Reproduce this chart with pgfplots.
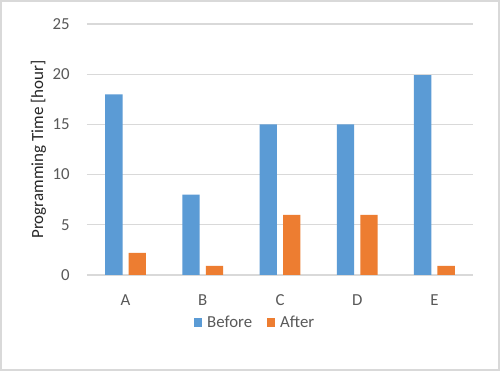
\documentclass[border=0pt]{standalone}
\usepackage{fontspec}
\setmainfont{Carlito}
\usepackage{pgfplots}
\pgfplotsset{compat=1.18}
\definecolor{cblue}{HTML}{5B9BD5}
\definecolor{corange}{HTML}{ED7D31}
\definecolor{cgrid}{HTML}{D9D9D9}
\definecolor{ctext}{HTML}{595959}
\definecolor{clabel}{HTML}{262626}
\begin{document}
\begin{tikzpicture}
\useasboundingbox (0,0) rectangle (375pt,278.25pt);
\fill[white] (0,0) rectangle (375pt,278.25pt);
\draw[cgrid, line width=1.5pt] (0.75pt,0.75pt) rectangle (374.25pt,277.5pt);
\begin{axis}[
  at={(65.25pt,72pt)}, anchor=south west,
  scale only axis, width=289.5pt, height=188.25pt,
  ymin=0, ymax=25, ytick={0,5,10,15,20,25},
  xmin=-0.5, xmax=4.5, xtick={0,1,2,3,4},
  xticklabels={A,B,C,D,E},
  axis line style={draw=none},
  major tick length=0pt,
  ymajorgrids, grid style={cgrid, line width=1pt},
  /pgf/number format/assume math mode=true,
  tick label style={font=\fontsize{12.6}{15}\selectfont, text=ctext},
  yticklabel style={anchor=east, inner sep=0pt, xshift=-12.75pt},
  xticklabel style={anchor=center, inner sep=0pt, yshift=-18.75pt},
  ylabel={Programming Time [hour]},
  ylabel style={at={(axis description cs:-0.1257,0.5)}, anchor=center, font=\fontsize{12.75}{15}\selectfont, text=clabel},
  ybar, bar width=13pt,
  legend columns=2,
  legend style={at={(0.4326,-0.19)}, anchor=center, draw=none, fill=none,
    font=\fontsize{12.6}{15}\selectfont, text=ctext,
    nodes={inner sep=0pt},
    /tikz/every odd column/.append style={column sep=3.75pt},
    /tikz/every even column/.append style={column sep=10.8pt}},
  legend image code/.code={\fill[#1] (0pt,-3.2pt) rectangle (6.4pt,3.2pt);},
]
\addplot[fill=cblue, draw=none, bar shift=-8.8pt] coordinates {(0,18) (1,8) (2,15) (3,15) (4,19.9)};
\addplot[fill=corange, draw=none, bar shift=8.8pt] coordinates {(0,2.2) (1,0.9) (2,6) (3,6) (4,0.9)};
\legend{Before,After}
\end{axis}
\end{tikzpicture}
\end{document}
